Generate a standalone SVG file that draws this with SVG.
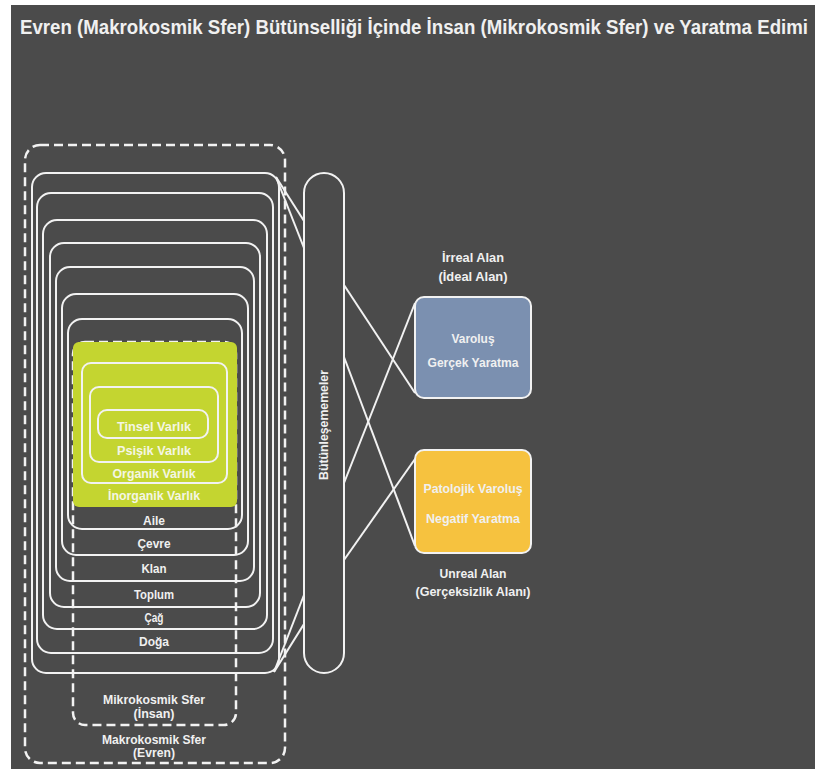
<svg xmlns="http://www.w3.org/2000/svg" width="815" height="769" viewBox="0 0 815 769">
<style>
.ln{fill:none;stroke:#f2f2f2;stroke-width:2}
.dash{fill:none;stroke:#f2f2f2;stroke-width:2.5;stroke-dasharray:9 5}
.t{font-family:"Liberation Sans","DejaVu Sans",sans-serif;font-weight:bold;fill:#f0f0f0;text-anchor:middle}
.s12{font-size:12.5px}
.s11{font-size:12px}
.g{fill:#f4f6e4}
</style>
<rect x="0" y="0" width="815" height="769" fill="#ffffff"/>
<rect x="11" y="5" width="804" height="764" fill="#4b4b4b"/>
<text id="title" class="t" transform="translate(414 34) scale(0.8 1)" x="0" y="0" font-size="20" textLength="985" lengthAdjust="spacingAndGlyphs">Evren (Makrokosmik Sfer) Bütünselliği İçinde İnsan (Mikrokosmik Sfer) ve Yaratma Edimi</text>

<g id="makrokosmik">
<rect class="dash" x="25" y="145" width="260" height="618" rx="15"/>
<text class="t s12" x="154" y="744" textLength="104" lengthAdjust="spacingAndGlyphs">Makrokosmik Sfer</text>
<text class="t s12" x="154" y="757" textLength="42" lengthAdjust="spacingAndGlyphs">(Evren)</text>
</g>

<g id="outer-ring">
<rect class="ln" x="32" y="173" width="247" height="500" rx="14"/>
</g>
<g id="doga">
<rect class="ln" x="37" y="193" width="236" height="460" rx="14"/>
<text class="t s12" x="154" y="646" textLength="30" lengthAdjust="spacingAndGlyphs">Doğa</text>
</g>
<g id="cag">
<rect class="ln" x="43" y="220" width="224" height="409" rx="14"/>
<text class="t s12" x="154" y="622" textLength="19" lengthAdjust="spacingAndGlyphs">Çağ</text>
</g>
<g id="toplum">
<rect class="ln" x="50" y="243" width="210" height="364" rx="14"/>
<text class="t s12" x="154" y="599" textLength="40" lengthAdjust="spacingAndGlyphs">Toplum</text>
</g>
<g id="klan">
<rect class="ln" x="56" y="267" width="198" height="314" rx="14"/>
<text class="t s12" x="154" y="573" textLength="25" lengthAdjust="spacingAndGlyphs">Klan</text>
</g>
<g id="cevre">
<rect class="ln" x="62" y="294" width="186" height="261" rx="14"/>
<text class="t s12" x="154" y="548" textLength="33" lengthAdjust="spacingAndGlyphs">Çevre</text>
</g>
<g id="aile">
<rect class="ln" x="68" y="319" width="174" height="210" rx="14"/>
<text class="t s12" x="154" y="525" textLength="22" lengthAdjust="spacingAndGlyphs">Aile</text>
</g>

<g id="mikrokosmik">
<rect class="dash" x="73" y="342" width="163" height="383" rx="12"/>
<text class="t s12" x="154" y="704" fill="#e2e2e2" textLength="102" lengthAdjust="spacingAndGlyphs">Mikrokosmik Sfer</text>
<text class="t s12" x="154" y="718" textLength="41" lengthAdjust="spacingAndGlyphs">(İnsan)</text>
</g>

<g id="inorganik">
<rect x="73" y="342" width="164" height="165" rx="6" fill="#c4d530"/>
<text class="t s12 g" x="154" y="500" textLength="92" lengthAdjust="spacingAndGlyphs">İnorganik Varlık</text>
</g>
<g id="organik">
<rect class="ln" x="82" y="363" width="145" height="120" rx="9" stroke="#f4f6e4"/>
<text class="t s12 g" x="154" y="478" textLength="83" lengthAdjust="spacingAndGlyphs">Organik Varlık</text>
</g>
<g id="psisik">
<rect class="ln" x="90" y="387" width="128" height="75" rx="9" stroke="#f4f6e4"/>
<text class="t s12 g" x="154" y="455" textLength="74" lengthAdjust="spacingAndGlyphs">Psişik Varlık</text>
</g>
<g id="tinsel">
<rect class="ln" x="98" y="410" width="110" height="28" rx="9" stroke="#f4f6e4"/>
<text class="t s12 g" x="154" y="431" textLength="74" lengthAdjust="spacingAndGlyphs">Tinsel Varlık</text>
</g>

<g id="butunlesememeler">
<rect class="ln" x="304" y="173" width="40" height="500" rx="20"/>
<text class="t s12" transform="translate(328 425) rotate(-90)" x="0" y="0" textLength="110" lengthAdjust="spacingAndGlyphs">Bütünleşememeler</text>
</g>

<g id="connectors">
<line class="ln" x1="276" y1="177" x2="304" y2="221"/>
<line class="ln" x1="276" y1="177" x2="304" y2="248"/>
<line class="ln" x1="274" y1="672" x2="304" y2="595"/>
<line class="ln" x1="274" y1="672" x2="304" y2="624"/>
<line class="ln" x1="344" y1="285" x2="415" y2="393"/>
<line class="ln" x1="344" y1="357" x2="415" y2="546"/>
<line class="ln" x1="344" y1="483" x2="415" y2="303"/>
<line class="ln" x1="344" y1="560" x2="415" y2="459"/>
</g>

<g id="irreal">
<text class="t s11" x="473" y="262" textLength="62" lengthAdjust="spacingAndGlyphs">İrreal Alan</text>
<text class="t s11" x="473" y="281" textLength="69" lengthAdjust="spacingAndGlyphs">(İdeal Alan)</text>
</g>
<g id="varolus">
<rect x="415" y="297" width="116" height="101" rx="9" fill="#7b90b0" stroke="#f2f2f2" stroke-width="2"/>
<text class="t s11" x="473" y="343" textLength="43" lengthAdjust="spacingAndGlyphs">Varoluş</text>
<text class="t s11" x="473" y="367" textLength="91" lengthAdjust="spacingAndGlyphs">Gerçek Yaratma</text>
</g>
<g id="patolojik">
<rect x="415" y="450" width="116" height="103" rx="9" fill="#f6c23f" stroke="#f2f2f2" stroke-width="2"/>
<text class="t s11" x="473" y="493" fill="#fdf3d6" textLength="99" lengthAdjust="spacingAndGlyphs">Patolojik Varoluş</text>
<text class="t s11" x="473" y="523" fill="#fdf3d6" textLength="94" lengthAdjust="spacingAndGlyphs">Negatif Yaratma</text>
</g>
<g id="unreal">
<text class="t s11" x="473" y="578" textLength="67" lengthAdjust="spacingAndGlyphs">Unreal Alan</text>
<text class="t s11" x="473" y="596" textLength="115" lengthAdjust="spacingAndGlyphs">(Gerçeksizlik Alanı)</text>
</g>
</svg>
